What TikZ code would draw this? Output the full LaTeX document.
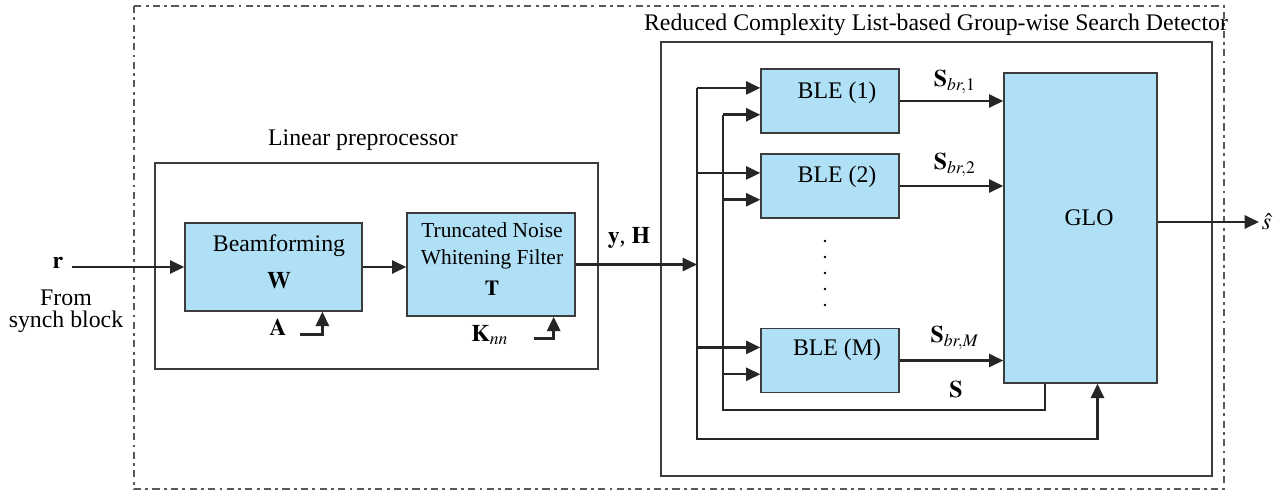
\documentclass[tikz,border=0pt]{standalone}
\usepackage{amsmath, amssymb}
\usepackage{mathptmx}
\usepackage{fontspec}
\setmainfont{Liberation Serif}
\usepackage{tikz}
\usetikzlibrary{
  arrows.meta,
  calc,
  positioning
}
\definecolor{boxblue}{RGB}{176,224,246}
\definecolor{edgegray}{RGB}{60,60,60}
\tikzset{
  blk/.style={
    draw=edgegray,
    fill=boxblue,
    line width=0.6pt,
    inner sep=0pt},
  ble/.style={
    blk,
    minimum width=57.96pt,
    minimum height=26.88pt},
  frame/.style={
    draw=edgegray,
    line width=0.6pt,
    inner sep=0pt},
  sig/.style={
    draw=black!85,
    line width=1.05pt,
    -{Triangle[length=6pt,width=5.5pt]}},
  wire/.style={
    draw=black!85,
    line width=1.05pt}
  }

\begin{document}
\begin{tikzpicture}[x=0.42pt,y=-0.42pt]
    \useasboundingbox (0,0) rectangle (1282,492);
    \draw [gray!70!black, line width=0.5pt,
      dash pattern=on 3pt off 1.8pt on 1.2pt off 1.8pt]
      (134,6) rectangle (1224,489);
    \node[frame, minimum width=186.06pt, minimum height=86.52pt] (lin) at (376.5,266) {};
    \node (lintitle) at (363,140) {Linear preprocessor};
    \node[frame, minimum width=231.42pt, minimum height=182.28pt] (det) at (936.5,259) {};
    \node (dettitle) at (936,25) {Reduced Complexity List-based Group-wise Search Detector};
    \node[blk, minimum width=74.34pt, minimum height=36.96pt] (bf) at (273.5,267) {};
    \node[blk, minimum width=70.56pt, minimum height=43.26pt] (tnwf) at (491,264.5) {};
    \node[ble] (ble1) at (830,101) {};
    \node[ble] (ble2) at (830,186) {};
    \node[ble] (bleM) at (830,360.5) {};
    \node[blk, minimum width=64.26pt, minimum height=130.2pt] (glo) at (1080.5,228) {};
    \node[align=center] (bftext) at (279,261.5) {Beamforming\\[3.5pt]$\mathbf{W}$};
    \node[align=center, font=\small] (tnwftext) at (492,259) {Truncated Noise\\Whitening Filter\\[2pt]$\mathbf{T}$};
    \node (ble1text) at (837,93) {BLE (1)};
    \node (ble2text) at (837,177) {BLE (2)};
    \node (bleMtext) at (837,350) {BLE (M)};
    \node (glotext) at (1089,218) {GLO};
    \node (rin) at (58,263) {$\mathbf{r}$};
    \node[align=center] (synch) at (66,311) {From\\[-2.7pt]synch block};
    \node (yh) at (629,238) {$\mathbf{y}$, $\mathbf{H}$};
    \node (amat) at (278,327) {$\mathbf{A}$};
    \node (knn) at (490,335) {$\mathbf{K}_{nn}$};
    \node (s1) at (955,82) {$\mathbf{S}_{br,1}$};
    \node (s2) at (955,165) {$\mathbf{S}_{br,2}$};
    \node (sm) at (955,338) {$\mathbf{S}_{br,M}$};
    \node (sfb) at (956,390) {$\mathbf{S}$};
    \node[inner sep=1pt, anchor=west] (shat) at (1259,222) {$\hat{s}$};
    \foreach \k in {0,...,4}
      \fill (825,{241+16*\k}) circle (0.55pt);
    \coordinate (bus1) at (697,264);
    \coordinate (bus2) at (723,264);
    \coordinate (low1) at (697,439);
    \coordinate (low2) at (723,410);
    \coordinate (gloS) at ($(glo.south west)!0.27!(glo.south east)$);
    \coordinate (gloH) at ($(glo.south west)!0.61!(glo.south east)$);
    \coordinate (gloO) at ($(glo.east)+(0,-6)$);
    \coordinate (bfA) at ($(bf.south west)!0.774!(bf.south east)$);
    \coordinate (tnwfK) at ($(tnwf.south west)!0.87!(tnwf.south east)$);
    \foreach \b in {ble1,ble2,bleM}{
      \coordinate (\b-a) at ($(\b.north west)!0.3!(\b.south west)$);
      \coordinate (\b-b) at ($(\b.north west)!0.71!(\b.south west)$);
    }
    \path
      (rin.east |- bf.west) edge[sig] (bf.west)
      (bf.east) edge[sig] (bf.east -| tnwf.west)
      (tnwf.east) edge[sig] (tnwf.east -| bus1)
      (ble1.east) edge[sig] (ble1.east -| glo.west)
      (ble2.east) edge[sig] (ble2.east -| glo.west)
      (bleM.east) edge[sig] (bleM.east -| glo.west)
      (gloO) edge[sig] (shat.west);
    \draw [sig] (ble1-a -| bus1) -- (low1) -| (gloH);
    \draw [wire] (gloS) |- (low2) -- (low2 |- ble1-b);
    \foreach \b in {ble1,ble2,bleM}{
      \draw [sig] (\b-a -| bus1) -- (\b-a);
      \draw [sig] (\b-b -| bus2) -- (\b-b);
    }
    \draw [sig] ($(bfA)+(-22,23)$) -| (bfA);
    \draw [sig] ($(tnwfK)+(-20,22)$) -| (tnwfK);
\end{tikzpicture}
\end{document}
